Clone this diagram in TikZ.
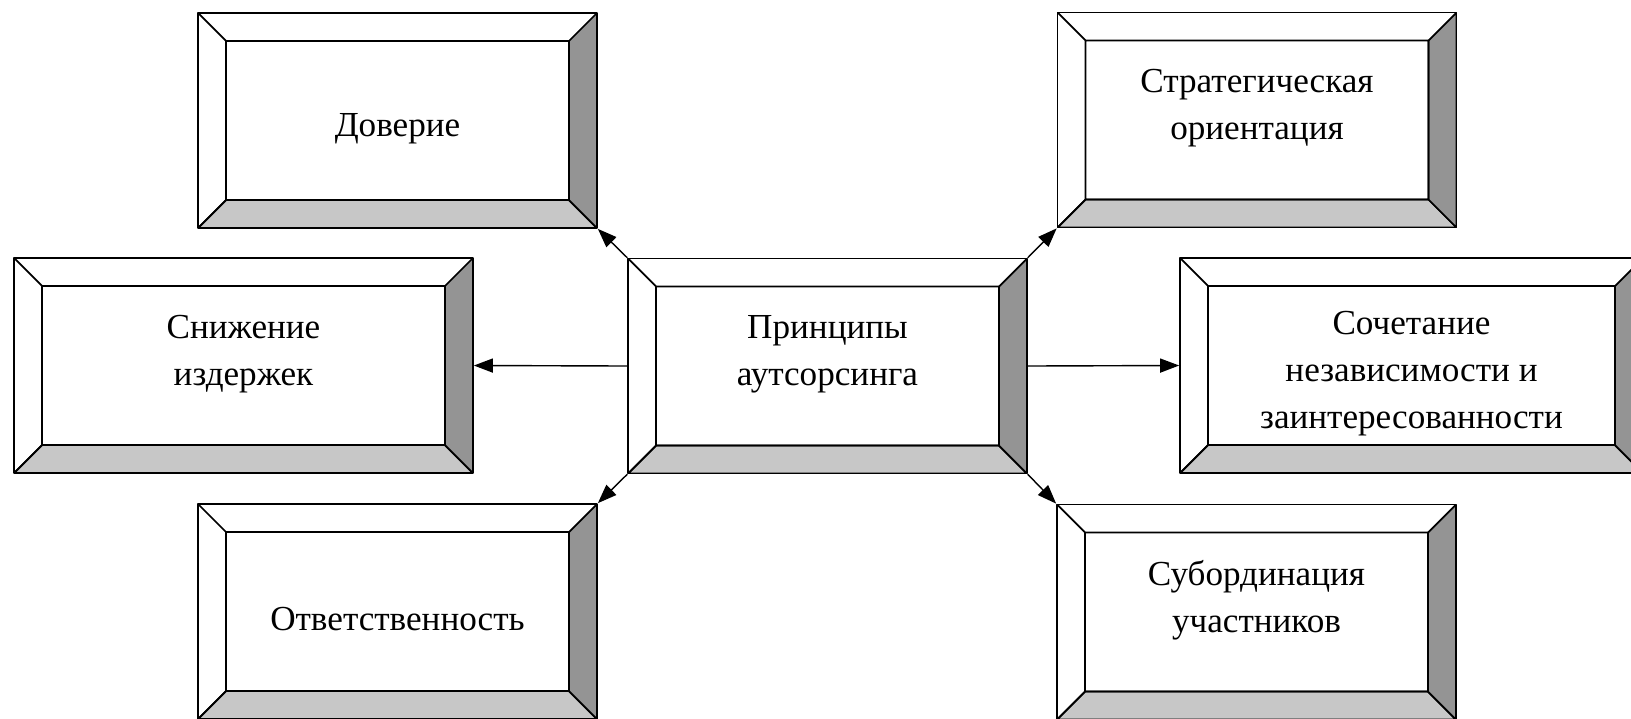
\documentclass[tikz,border=0pt]{standalone}
\usepackage{fontspec}
\setmainfont{Liberation Serif}
\usetikzlibrary{arrows.meta, calc, positioning}

\definecolor{bevlow}{gray}{0.78}
\definecolor{bevright}{gray}{0.58}
\newcommand\bevd{0.56cm}

\begin{document}
\begin{tikzpicture}[line cap=round,line join=round,>={Triangle[length=0.38cm,width=0.28cm]},x=0.02cm,y=-0.02cm]
  \tikzset{
  % box with a raised, bevelled frame
  bevel box/.style={
    draw, line width=1pt, inner sep=0pt,
    minimum width=7.98cm, minimum height=4.3cm,
    path picture={
      \filldraw[fill=bevlow, line width=1pt] let \p1=(path picture bounding box.south west), \p2=(path picture bounding box.north east) in
        (\x1,\y1) -- (\x2,\y1) -- (\x2-\bevd,\y1+\bevd) -- (\x1+\bevd,\y1+\bevd) -- cycle;
      \filldraw[fill=bevright, line width=1pt] let \p1=(path picture bounding box.south west), \p2=(path picture bounding box.north east) in
        (\x2,\y1) -- (\x2,\y2) -- (\x2-\bevd,\y2-\bevd) -- (\x2-\bevd,\y1+\bevd) -- cycle;
      \draw[line width=1pt] let \p1=(path picture bounding box.south west), \p2=(path picture bounding box.north east) in
        (\x1+\bevd,\y1+\bevd) rectangle (\x2-\bevd,\y2-\bevd)
        (\x1,\y2) -- (\x1+\bevd,\y2-\bevd)
        (\x1,\y1) -- (\x1+\bevd,\y1+\bevd);
    }},
  % the words inside a box
  box text/.style={align=center, inner sep=0pt, yshift=-4.5pt,
    font=\fontsize{20}{26.7}\selectfont},
  % connector from the centre box
  link/.style={->, line width=0.8pt},
}
\clip (0,0) rectangle (1631,718);

\node[bevel box] (dov) at (397.5,120.5) {};
\node[bevel box] (strat) at (1257,120) {};
\node[bevel box, minimum width=9.18cm] (sniz) at (243.5,365.5) {};
\node[bevel box] (princ) at (827.5,366) {};
\node[bevel box, minimum width=9.26cm] (soch) at (1411.5,365.5) {};
\node[bevel box] (otv) at (397.5,611.5) {};
\node[bevel box] (subord) at (1256.5,612) {};

\node[box text] (dov-t) at (dov) {Доверие};
\node[box text] (strat-t) at (strat) {Стратегическая\\ориентация\\~};
\node[box text] (sniz-t) at (sniz) {Снижение\\издержек\\~};
\node[box text] (princ-t) at (princ) {Принципы\\аутсорсинга\\~};
\node[box text] (soch-t) at (soch) {Сочетание\\независимости и\\заинтересованности};
\node[box text] (otv-t) at (otv) {Ответственность};
\node[box text] (subord-t) at (subord) {Субординация\\участников\\~};

\draw[link] (princ.north west) -- (dov.south east);
\draw[link] (princ.west) -- (sniz.east);
\draw[link] (princ.south west) -- (otv.north east);
\draw[link] (princ.north east) -- (strat.south west);
\draw[link] (princ.east) -- (soch.west);
\draw[link] (princ.south east) -- (subord.north west);
\end{tikzpicture}
\end{document}
